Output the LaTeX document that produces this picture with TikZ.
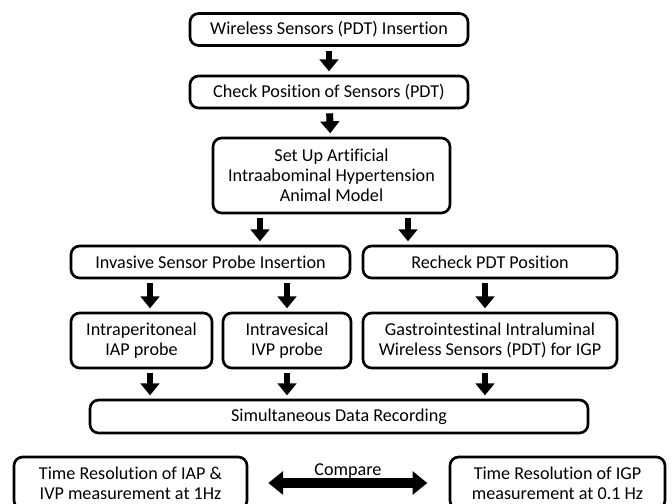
\documentclass[tikz,border=0pt]{standalone}
\usepackage{fontspec}
\setmainfont[Ligatures=NoCommon]{Carlito}
\usetikzlibrary{arrows.meta}

\begin{document}
\begin{tikzpicture}[x=0.75pt,y=-0.75pt,
        box/.style={draw, line width=2pt, rounded corners=6.5pt, align=center, inner sep=0pt,
            font=\fontsize{13.6}{15}\selectfont},
        flow/.style={line width=5.2pt, -{Triangle[width=14pt,length=9pt]},
            shorten <=3pt, shorten >=2.5pt},
        cmp/.style={line width=7pt,
            {Triangle[width=17pt,length=11pt]}-{Triangle[width=17pt,length=11pt]}}]
        \path[use as bounding box, clip] (0,0) rectangle (672,504);
        % main column
        \node[box, minimum width=208.5pt, minimum height=24pt] (ins) at (329,29.5) {Wireless Sensors (PDT) Insertion};
        \node[box, minimum width=208.5pt, minimum height=24pt] (chk) at (329,92) {Check Position of Sensors (PDT)};
        \node[box, minimum width=177.75pt, minimum height=56.25pt] (model) at (331.5,175.5) {Set Up Artificial\\Intraabominal Hypertension\\Animal Model};
        \node[box, minimum width=209.25pt, minimum height=24pt] (inv) at (210.5,262) {Invasive Sensor Probe Insertion};
        \node[box, minimum width=190.5pt, minimum height=24pt] (rechk) at (490,262) {Recheck PDT Position};
        \node[box, minimum width=105.75pt, minimum height=41.25pt] (iap) at (141.5,340.5) {Intraperitoneal\\IAP probe};
        \node[box, minimum width=96pt, minimum height=41.25pt] (ivp) at (287,340.5) {Intravesical\\IVP probe};
        \node[box, minimum width=190.5pt, minimum height=41.25pt] (gip) at (490,340.5) {Gastrointestinal Intraluminal\\Wireless Sensors (PDT) for IGP};
        \node[box, minimum width=373.5pt, minimum height=24.75pt] (rec) at (339,416.5) {Simultaneous Data Recording};
        % comparison row
        \node[box, minimum width=174.75pt, minimum height=39pt] (resA) at (130.5,483) {Time Resolution of IAP \&\\IVP measurement at 1Hz};
        \node[box, minimum width=161.25pt, minimum height=39pt] (resB) at (557.5,483) {Time Resolution of IGP\\measurement at 0.1 Hz};
        \node[font=\fontsize{13.6}{15}\selectfont] (cmpl) at (348,471) {Compare};
        % arrow columns
        \coordinate (xl) at (260,0);
        \coordinate (xr) at (408,0);
        \coordinate (xa) at (150,0);
        \coordinate (xb) at (287,0);
        \coordinate (xc) at (485,0);
        \draw[flow] (ins) -- (chk);
        \draw[flow] (chk) -- (model);
        \draw[flow] (model.south -| xl) -- (inv.north -| xl);
        \draw[flow] (model.south -| xr) -- (rechk.north -| xr);
        \draw[flow] (inv.south -| xa) -- (iap.north -| xa);
        \draw[flow] (inv.south -| xb) -- (ivp.north -| xb);
        \draw[flow] (rechk.south -| xc) -- (gip.north -| xc);
        \draw[flow] (iap.south -| xa) -- (rec.north -| xa);
        \draw[flow] (ivp.south -| xb) -- (rec.north -| xb);
        \draw[flow] (gip.south -| xc) -- (rec.north -| xc);
        \draw[cmp, shorten <=15pt, shorten >=16pt] (resA) -- (resB);
    \end{tikzpicture}
\end{document}
